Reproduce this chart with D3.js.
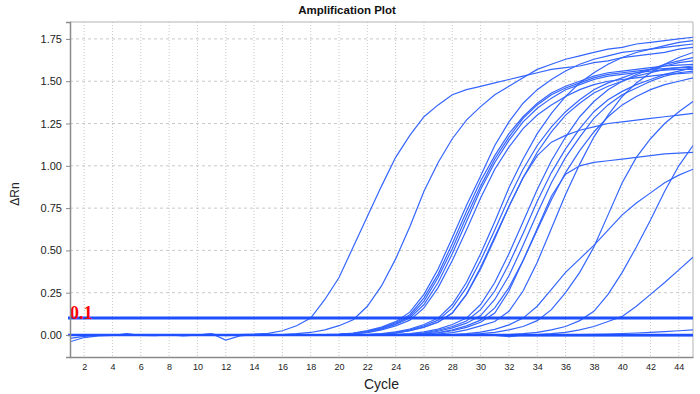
<!DOCTYPE html>
<html>
<head>
<meta charset="utf-8">
<script src="https://cdn.jsdelivr.net/npm/d3@7"></script>
<style>
body { margin: 0; background: #fff; }
</style>
</head>
<body>
<div id="chart"></div>
<script>
// cycle numbers on the x axis
var cycles = [1,2,3,4,5,6,7,8,9,10,11,12,13,14,15,16,17,18,19,20,21,22,23,24,25,26,27,28,29,30,
  31,32,33,34,35,36,37,38,39,40,41,42,43,44,45];

// delta Rn per cycle, one array per well
var wellA = [0,0,0,0,0,0,0,0,0,0,0,0,0.002,0.005,0.01,
  0.025,0.055,0.10,0.21,0.34,0.52,0.70,0.88,1.05,1.18,1.29,1.36,1.42,1.45,1.47,
  1.49,1.51,1.53,1.55,1.57,1.58,1.59,1.61,1.62,1.64,1.65,1.66,1.67,1.69,1.70];
var wellB = [0,0,0,0,0,0,0,0,0,0,0,0,0,0,0,
  0.003,0.008,0.015,0.03,0.055,0.09,0.17,0.29,0.45,0.64,0.85,1.02,1.16,1.27,1.35,
  1.42,1.47,1.52,1.57,1.60,1.63,1.65,1.67,1.69,1.70,1.72,1.73,1.74,1.75,1.76];
var wellC1 = [0,0,0,0,0,0,0,0,0,0,0,0,0,0,0,
  0,0,0,0.002,0.005,0.012,0.026,0.047,0.079,0.135,0.24,0.39,0.575,0.765,0.94,
  1.12,1.26,1.37,1.45,1.51,1.56,1.60,1.63,1.65,1.67,1.68,1.69,1.70,1.71,1.72];
var wellC2 = [0,0,0,0,0,0,0,0,0,0,0,0,0,0,0,
  0,0,0,0.002,0.004,0.01,0.022,0.042,0.072,0.12,0.22,0.36,0.54,0.73,0.91,
  1.06,1.19,1.29,1.37,1.43,1.47,1.50,1.53,1.55,1.56,1.57,1.58,1.59,1.595,1.60];
var wellC3 = [0,0,0,0,0,0,0,0,0,0,0,0,0,0,0,
  0,0,0,0.001,0.003,0.009,0.02,0.038,0.066,0.11,0.2,0.34,0.51,0.70,0.88,
  1.04,1.17,1.28,1.36,1.42,1.46,1.49,1.52,1.54,1.55,1.56,1.57,1.575,1.58,1.58];
var wellC4 = [0,0,0,0,0,0,0,0,0,0,0,0,0,0,0,
  0,0,0,0,0.003,0.008,0.018,0.035,0.062,0.10,0.18,0.31,0.48,0.67,0.86,
  1.02,1.15,1.26,1.34,1.40,1.45,1.48,1.51,1.53,1.54,1.55,1.56,1.565,1.57,1.57];
var wellC5 = [0,0,0,0,0,0,0,0,0,0,0,0,0,0,0,
  0,0,0,0,0.002,0.006,0.014,0.03,0.054,0.088,0.16,0.28,0.44,0.62,0.81,
  0.98,1.11,1.22,1.30,1.36,1.41,1.45,1.48,1.50,1.51,1.52,1.53,1.54,1.545,1.55];
var wellD1 = [0,0,0,0,0,0,0,0,0,0,0,0,0,0,0,
  0,0,0,0,0,0,0.003,0.008,0.018,0.035,0.062,0.10,0.18,0.31,0.48,
  0.67,0.87,1.04,1.19,1.31,1.41,1.49,1.55,1.60,1.64,1.67,1.69,1.71,1.73,1.74];
var wellD2 = [0,0,0,0,0,0,0,0,0,0,0,0,0,0,0,
  0,0,0,0,0,0,0.002,0.006,0.014,0.03,0.054,0.088,0.16,0.28,0.44,
  0.62,0.81,0.98,1.12,1.23,1.32,1.39,1.45,1.49,1.52,1.55,1.57,1.59,1.61,1.62];
var wellD3 = [0,0,0,0,0,0,0,0,0,0,0,0,0,0,0,
  0,0,0,0,0,0,0.001,0.004,0.011,0.025,0.046,0.077,0.13,0.24,0.39,
  0.57,0.76,0.93,1.08,1.20,1.30,1.37,1.43,1.47,1.50,1.53,1.55,1.57,1.58,1.59];
var wellD4 = [0,0,0,0,0,0,0,0,0,0,0,0,0,0,0,
  0,0,0,0,0,0,0.002,0.005,0.012,0.026,0.047,0.075,0.13,0.24,0.40,
  0.58,0.76,0.93,1.06,1.14,1.18,1.21,1.23,1.25,1.26,1.27,1.28,1.29,1.30,1.31];
var wellE1 = [0,0,0,0,0,0,0,0,0,0,0,0,0,0,0,
  0,0,0,0,0,0,0,0,0.003,0.008,0.018,0.035,0.062,0.10,0.18,
  0.31,0.48,0.67,0.86,1.03,1.17,1.29,1.38,1.45,1.50,1.54,1.57,1.60,1.62,1.64];
var wellE2 = [0,0,0,0,0,0,0,0,0,0,0,0,0,0,0,
  0,0,0,0,0,0,0,0,0.002,0.006,0.013,0.028,0.05,0.083,0.15,
  0.26,0.42,0.60,0.79,0.96,1.10,1.22,1.32,1.39,1.44,1.48,1.51,1.54,1.56,1.58];
var wellE3 = [0,0,0,0,0,0,0,0,0,0,0,0,0,0,0,
  0,0,0,0,0,0,0,0,0.001,0.004,0.01,0.022,0.042,0.07,0.115,
  0.21,0.35,0.53,0.72,0.90,1.05,1.17,1.28,1.36,1.42,1.46,1.50,1.53,1.55,1.56];
var wellE4 = [0,0,0,0,0,0,0,0,0,0,0,0,0,0,0,
  0,0,0,0,0,0,0,0,0,0.002,0.006,0.014,0.03,0.054,0.088,
  0.16,0.28,0.44,0.62,0.80,0.96,1.09,1.20,1.29,1.36,1.41,1.45,1.48,1.50,1.52];
var wellE5 = [0,0,0,0,0,0,0,0,0,0,0,0,0,0,0,
  0,0,0,0,0,0,0,0,0,0.002,0.005,0.012,0.025,0.045,0.075,
  0.13,0.26,0.44,0.63,0.82,0.95,1.00,1.02,1.03,1.04,1.05,1.06,1.07,1.075,1.08];
var wellF = [0,0,0,0,0,0,0,0,0,0,0,0,0,0,0,
  0,0,0,0,0,0,0,0,0,0,0.002,0.006,0.014,0.03,0.054,
  0.08,0.14,0.26,0.43,0.63,0.83,1.01,1.17,1.30,1.41,1.49,1.55,1.60,1.64,1.67];
var wellG = [0,0,0,0,0,0,0,0,0,0,0,0,0,0,0,
  0,0,0,0,0,0,0,0,0,0,0,0,0.003,0.008,0.017,
  0.033,0.06,0.10,0.17,0.27,0.37,0.45,0.53,0.62,0.71,0.78,0.84,0.90,0.945,0.98];
var wellH = [0,0,0,0,0,0,0,0,0,0,0,0,0,0,0,
  0,0,0,0,0,0,0,0,0,0,0,0,0,0.003,0.008,
  0.016,0.03,0.05,0.085,0.15,0.25,0.37,0.52,0.71,0.90,1.05,1.16,1.25,1.32,1.38];
var wellI = [0,0,0,0,0,0,0,0,0,0,0,0,0,0,0,
  0,0,0,0,0,0,0,0,0,0,0,0,0,0,0,
  0,0.003,0.008,0.016,0.03,0.05,0.085,0.14,0.24,0.37,0.52,0.68,0.85,1.0,1.12];
var wellJ = [0,0,0,0,0,0,0,0,0,0,0,0,0,0,0,
  0,0,0,0,0,0,0,0,0,0,0,0,0,0,0,
  0,0,0,0.003,0.008,0.016,0.03,0.05,0.08,0.11,0.17,0.24,0.31,0.385,0.46];
var wellK = [0,0,0,0,0,0,0,0,0,0,0,0,0,0,0,
  0,0,0,0,0,0,0,0,0,0,0,0,0,0,0,
  0,0,0,0,0,0,0.002,0.004,0.006,0.009,0.012,0.016,0.02,0.025,0.03];
var wellN1 = [-0.04,-0.015,-0.005,-0.003,0.008,-0.002,-0.004,0,-0.005,0,0.008,-0.03,-0.005,0.002,0,
  0,0,0,0,0,0,0,0,0,0,0,0,0,0,0,
  0,0,0,0,0,0,0,0,0,0,0,0,0,0,0];
var wellN2 = [-0.02,-0.008,-0.002,0,0.004,0,-0.002,0.002,-0.002,0.001,0.005,-0.004,0,0.003,0.002,
  0,0,0,0,0,0,0,0,0,0,0,0,0,0,0,
  -0.003,-0.01,-0.004,-0.005,-0.005,-0.005,-0.005,-0.005,-0.005,-0.005,-0.005,-0.005,-0.005,-0.005,-0.005];

var wells = [wellN1, wellN2, wellK, wellJ, wellI, wellH, wellG, wellF,
  wellE5, wellE4, wellE3, wellE2, wellE1, wellD4, wellD3, wellD2, wellD1,
  wellC5, wellC4, wellC3, wellC2, wellC1, wellB, wellA];

var yTicks = [0, 0.25, 0.5, 0.75, 1, 1.25, 1.5, 1.75];
var xTicks = [2,4,6,8,10,12,14,16,18,20,22,24,26,28,30,32,34,36,38,40,42,44];
var threshold = 0.1;

var width = 700, height = 394;
var plotLeft = 70, plotRight = 693, plotTop = 22, plotBottom = 357;
var font = 'Liberation Sans, Arial, Helvetica, sans-serif';

var svg = d3.select('#chart')
  .append('svg')
  .attr('width', width)
  .attr('height', height);

var x = d3.scaleLinear().domain([1, 45]).range([plotLeft, plotRight]);
var y = d3.scaleLinear().domain([-0.13, 1.85]).range([plotBottom, plotTop]);

svg.append('defs').append('clipPath').attr('id', 'plot')
  .append('rect')
  .attr('x', plotLeft).attr('y', plotTop)
  .attr('width', plotRight - plotLeft).attr('height', plotBottom - plotTop);

// grid
svg.append('g').selectAll('line').data(yTicks).enter().append('line')
  .attr('x1', plotLeft).attr('x2', plotRight)
  .attr('y1', function(d) { return y(d); })
  .attr('y2', function(d) { return y(d); })
  .attr('stroke', '#c8c8c8')
  .attr('stroke-dasharray', '3,3');
svg.append('g').selectAll('line').data(xTicks).enter().append('line')
  .attr('y1', plotTop).attr('y2', plotBottom)
  .attr('x1', function(d) { return x(d); })
  .attr('x2', function(d) { return x(d); })
  .attr('stroke', '#c8c8c8')
  .attr('stroke-dasharray', '1,2');

// frame (top and right)
svg.append('path')
  .attr('d', 'M' + plotLeft + ',' + plotTop + 'H' + plotRight + 'V' + plotBottom)
  .attr('fill', 'none')
  .attr('stroke', '#b4b4b4');

// amplification curves
var line = d3.line()
  .x(function(d, i) { return x(cycles[i]); })
  .y(function(d) { return y(d); });

svg.append('g').attr('clip-path', 'url(#plot)')
  .selectAll('path').data(wells).enter().append('path')
  .attr('d', line)
  .attr('fill', 'none')
  .attr('stroke', '#3465ff')
  .attr('stroke-width', 1.2);

// baseline and threshold
svg.append('line')
  .attr('x1', plotLeft - 2).attr('x2', plotRight)
  .attr('y1', y(0)).attr('y2', y(0))
  .attr('stroke', '#1f50ff')
  .attr('stroke-width', 2.6);
svg.append('line')
  .attr('x1', plotLeft - 2).attr('x2', plotRight)
  .attr('y1', y(threshold)).attr('y2', y(threshold))
  .attr('stroke', '#1f50ff')
  .attr('stroke-width', 3);

svg.append('text')
  .attr('x', plotLeft)
  .attr('y', y(threshold) + 1)
  .attr('fill', '#ff0000')
  .attr('font-family', 'Liberation Serif, DejaVu Serif, serif')
  .attr('font-weight', 'bold')
  .attr('font-size', '18px')
  .text(threshold);

// axes
var yAxis = svg.append('g')
  .attr('transform', 'translate(' + plotLeft + ',0)')
  .call(d3.axisLeft(y).tickValues(yTicks).tickFormat(d3.format('.2f')).tickSize(4).tickPadding(4));
yAxis.selectAll('text').attr('font-size', '11px').attr('font-family', font).attr('fill', '#222');

var xAxis = svg.append('g')
  .attr('transform', 'translate(0,' + plotBottom + ')')
  .call(d3.axisBottom(x).tickValues(xTicks).tickSize(0).tickPadding(7));
xAxis.selectAll('text').attr('font-size', '9px').attr('font-family', font).attr('fill', '#222');

svg.selectAll('.domain').attr('stroke', '#8a8a8a').attr('stroke-width', 1.5);
svg.selectAll('.tick line').attr('stroke', '#8a8a8a');

// titles
svg.append('text')
  .attr('x', 347).attr('y', 14)
  .attr('text-anchor', 'middle')
  .attr('font-family', font)
  .attr('font-weight', 'bold')
  .attr('font-size', '11.5px')
  .attr('fill', '#111')
  .text('Amplification Plot');

svg.append('text')
  .attr('x', (plotLeft + plotRight) / 2).attr('y', 389)
  .attr('text-anchor', 'middle')
  .attr('font-family', font)
  .attr('font-size', '14px')
  .attr('fill', '#222')
  .text('Cycle');

svg.append('text')
  .attr('transform', 'translate(19,194) rotate(-90)')
  .attr('text-anchor', 'middle')
  .attr('font-family', font)
  .attr('font-size', '12px')
  .attr('fill', '#222')
  .text('ΔRn');
</script>
</body>
</html>
